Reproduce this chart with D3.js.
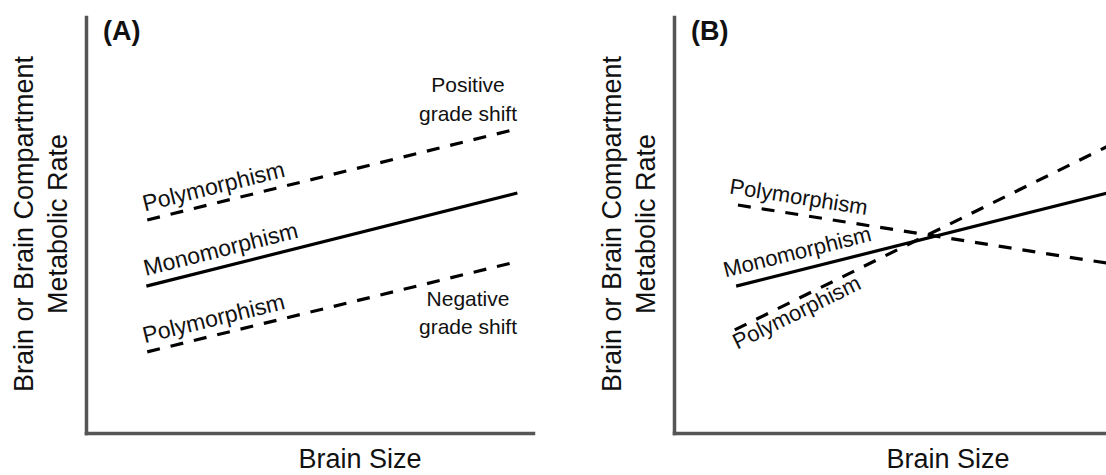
<!DOCTYPE html>
<html>
<head>
<meta charset="utf-8">
<script src="https://cdn.jsdelivr.net/npm/d3@7"></script>
<style>
body { margin: 0; background: #fff; }
text { font-family: "Liberation Sans", Arial, sans-serif; fill: #111; }
</style>
</head>
<body>
<svg id="chart" width="1106" height="475"></svg>
<script>
// conceptual axes, no ticks: both run 0..10
const xDomain = [0, 10];
const yDomain = [0, 10];

const panelNames = ["(A)", "(B)"];
const xTitle = "Brain Size";
const yTitle = ["Brain or Brain Compartment", "Metabolic Rate"];

// panel A: [x, y] end points of each line
const aMono  = [[1.35, 3.53], [9.65, 5.77]];
const aUpper = [[1.37, 5.12], [9.53, 7.28]];
const aLower = [[1.37, 1.95], [9.53, 4.09]];

// panel B: lines run off the right edge
const bMono = [[1.39, 3.53], [10, 5.85]];
const bDown = [[1.43, 5.48], [10, 4.03]];
const bUp   = [[1.36, 2.48], [10, 7.05]];

const svg = d3.select('#chart');

const axisLeftPx = [86, 674];
const axisLen = 447;
const plotTop = 17, plotBottom = 433;

const pointAt = (line, xv) => {
    const [p0, p1] = line;
    const t = (xv - p0[0]) / (p1[0] - p0[0]);
    return [xv, p0[1] + t * (p1[1] - p0[1])];
};

function drawPanel(i, lines, labels, notes) {
    const x = d3.scaleLinear().domain(xDomain).range([axisLeftPx[i], axisLeftPx[i] + axisLen]);
    const y = d3.scaleLinear().domain(yDomain).range([plotBottom, plotTop]);
    const g = svg.append('g');

    const styleAxis = s => s.select('.domain')
        .attr('stroke', '#555')
        .attr('stroke-width', 3.5)
        .attr('stroke-linecap', 'square');

    g.append('g')
        .attr('transform', `translate(0,${plotBottom})`)
        .call(d3.axisBottom(x).tickValues([]).tickSizeOuter(0))
        .call(styleAxis);
    g.append('g')
        .attr('transform', `translate(${axisLeftPx[i]},0)`)
        .call(d3.axisLeft(y).tickValues([]).tickSizeOuter(0))
        .call(styleAxis);

    const line = d3.line().x(d => x(d[0])).y(d => y(d[1]));

    lines.forEach(l => {
        g.append('path')
            .attr('d', line(l.data))
            .attr('fill', 'none')
            .attr('stroke', '#000')
            .attr('stroke-width', 3.2)
            .attr('stroke-dasharray', l.dashed ? '13,11' : null);
    });

    // labels sit along their line, rotated to its slope
    labels.forEach(lb => {
        const [p0, p1] = lb.line;
        const ang = Math.atan2(y(p1[1]) - y(p0[1]), x(p1[0]) - x(p0[0])) * 180 / Math.PI;
        const p = pointAt(lb.line, lb.at);
        g.append('text')
            .attr('transform', `translate(${x(p[0])},${y(p[1])}) rotate(${ang})`)
            .attr('dy', lb.dy)
            .attr('font-size', lb.size || 23)
            .text(lb.text);
    });

    notes.forEach(n => {
        g.append('text')
            .attr('x', n.x)
            .attr('y', n.y)
            .attr('text-anchor', 'middle')
            .attr('font-size', 21)
            .text(n.text);
    });

    g.append('text')
        .attr('x', axisLeftPx[i] + 17)
        .attr('y', 40)
        .attr('font-size', 27)
        .attr('font-weight', 'bold')
        .text(panelNames[i]);

    g.append('text')
        .attr('x', axisLeftPx[i] + 274)
        .attr('y', 468)
        .attr('text-anchor', 'middle')
        .attr('font-size', 27)
        .text(xTitle);

    [-53, -19].forEach((off, k) => {
        g.append('text')
            .attr('transform', `translate(${axisLeftPx[i] + off},224) rotate(-90)`)
            .attr('text-anchor', 'middle')
            .attr('font-size', 27)
            .text(yTitle[k]);
    });
}

drawPanel(0,
    [{data: aMono, dashed: false}, {data: aUpper, dashed: true}, {data: aLower, dashed: true}],
    [
        {line: aUpper, at: 1.36, dy: -9, text: 'Polymorphism'},
        {line: aMono, at: 1.39, dy: -10, text: 'Monomorphism'},
        {line: aLower, at: 1.36, dy: -9, text: 'Polymorphism'}
    ],
    [
        {x: 468, y: 92, text: 'Positive'},
        {x: 468, y: 121, text: 'grade shift'},
        {x: 468, y: 306, text: 'Negative'},
        {x: 468, y: 334, text: 'grade shift'}
    ]);

drawPanel(1,
    [{data: bMono, dashed: false}, {data: bDown, dashed: true}, {data: bUp, dashed: true}],
    [
        {line: bDown, at: 1.19, dy: -10, size: 22, text: 'Polymorphism'},
        {line: bMono, at: 1.21, dy: -11, size: 22, text: 'Monomorphism'},
        {line: bUp, at: 1.23, dy: 19, size: 22, text: 'Polymorphism'}
    ],
    []);
</script>
</body>
</html>
